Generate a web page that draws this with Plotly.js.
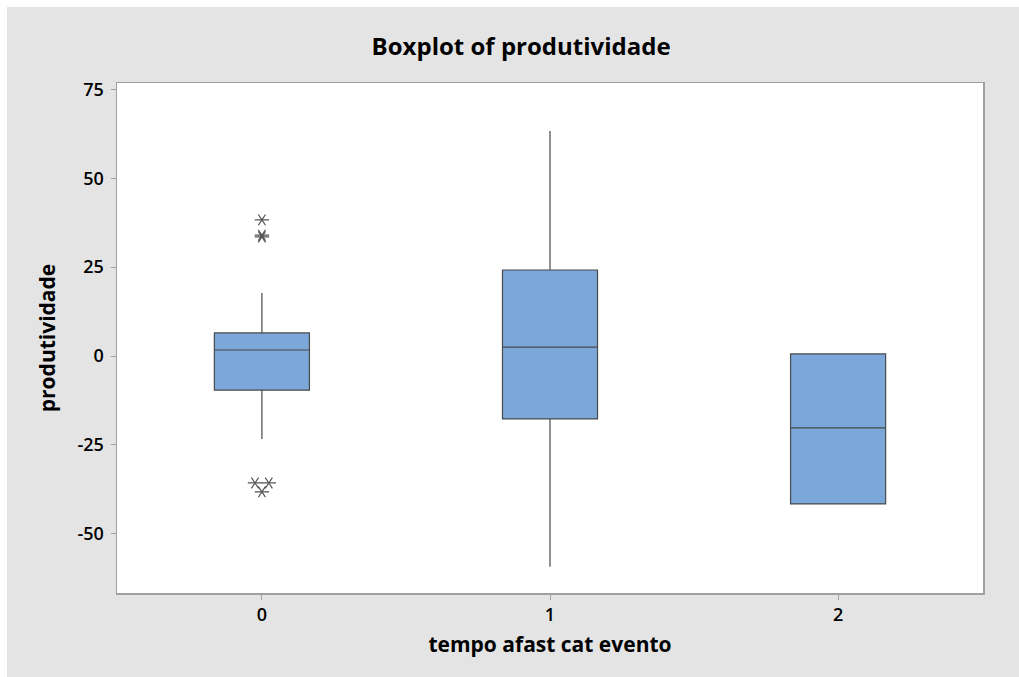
<!DOCTYPE html>
<html>
<head>
<meta charset="utf-8">
<script src="https://cdn.plot.ly/plotly-3.0.1.min.js"></script>
<style>
  html, body { margin: 0; padding: 0; background: #ffffff; }
  #chart { position: absolute; left: 7px; top: 7px; width: 1012px; height: 670px; }
</style>
</head>
<body>
<div id="chart"></div>
<script>
// ---- data ----
const categories = [0, 1, 2];
const categoryLabels = ['0', '1', '2'];
const q1Values = [-9.6, -17.7, -41.6];
const medianValues = [1.7, 2.5, -20.2];
const q3Values = [6.5, 24.2, 0.6];
const lowerWhisker = [-23.3, -59.3, -41.6];
const upperWhisker = [17.7, 63.3, 0.6];
// outliers (category, value)
const outlierCategory = [0, 0, 0, 0, 0, 0];
const outlierValues = [38.3, 34.0, 33.5, -35.7, -35.7, -38.2];

// spread tied outliers side by side (as Minitab does)
const outX = [];
const seen = {};
outlierValues.forEach((v, i) => {
  const key = outlierCategory[i] + '|' + v;
  const n = outlierValues.filter((w, j) => outlierCategory[j] === outlierCategory[i] && w === v).length;
  seen[key] = (seen[key] || 0) + 1;
  const k = seen[key] - 1;
  const step = 0.048;
  outX.push(outlierCategory[i] + (k - (n - 1) / 2) * step);
});

const boxTrace = {
  type: 'box',
  x: categories,
  q1: q1Values,
  median: medianValues,
  q3: q3Values,
  lowerfence: lowerWhisker,
  upperfence: upperWhisker,
  width: 0.33,
  whiskerwidth: 0,
  fillcolor: '#7ba7d9',
  line: { color: '#4a4a4a', width: 1.2 },
  boxpoints: false,
  hoverinfo: 'skip',
  showlegend: false
};

const starA = {
  type: 'scatter', mode: 'markers',
  x: outX, y: outlierValues,
  marker: { symbol: 'y-up-open', angle: 90, size: 9, line: { color: '#555555', width: 1.2 }, color: '#555555' },
  hoverinfo: 'skip', showlegend: false
};
const starB = {
  type: 'scatter', mode: 'markers',
  x: outX, y: outlierValues,
  marker: { symbol: 'y-down-open', angle: 90, size: 9, line: { color: '#555555', width: 1.2 }, color: '#555555' },
  hoverinfo: 'skip', showlegend: false
};

const fontFam = '"Open Sans", "Noto Sans", "DejaVu Sans", sans-serif';

const layout = {
  width: 1012,
  height: 670,
  paper_bgcolor: '#e4e4e4',
  plot_bgcolor: '#ffffff',
  margin: { l: 110, r: 36, t: 76, b: 84 },
  title: {
    text: 'Boxplot of produtividade',
    font: { family: fontFam, size: 24, color: '#000000', weight: 700 },
    x: 0.508, xanchor: 'center',
    y: 1 - 40 / 670, yanchor: 'middle'
  },
  xaxis: {
    type: 'linear',
    range: [-0.503, 2.503],
    tickmode: 'array',
    tickvals: categories,
    ticktext: categoryLabels,
    ticks: 'outside', ticklen: 5, tickcolor: '#a0a0a0', tickwidth: 1,
    showgrid: false, zeroline: false,
    showline: true, mirror: true, linecolor: '#a0a0a0', linewidth: 1.5,
    tickfont: { family: fontFam, size: 18, color: '#000000', weight: 600 },
    title: { text: 'tempo afast cat evento', standoff: 12,
      font: { family: fontFam, size: 21, color: '#000000', weight: 700 } }
  },
  yaxis: {
    range: [-66.65, 76.8],
    tickmode: 'array',
    tickvals: [-50, -25, 0, 25, 50, 75],
    ticktext: ['-50', '-25', '0', '25', '50', '75'],
    ticks: 'outside', ticklen: 5, tickcolor: '#a0a0a0', tickwidth: 1,
    ticklabelstandoff: 3,
    showgrid: false, zeroline: false,
    showline: true, mirror: true, linecolor: '#a0a0a0', linewidth: 1.5,
    tickfont: { family: fontFam, size: 18, color: '#000000', weight: 600 },
    title: { text: 'produtividade', standoff: 16,
      font: { family: fontFam, size: 21, color: '#000000', weight: 700 } }
  },
  showlegend: false
};

Plotly.newPlot('chart', [boxTrace, starA, starB], layout, { displayModeBar: false, staticPlot: true });
</script>
</body>
</html>
